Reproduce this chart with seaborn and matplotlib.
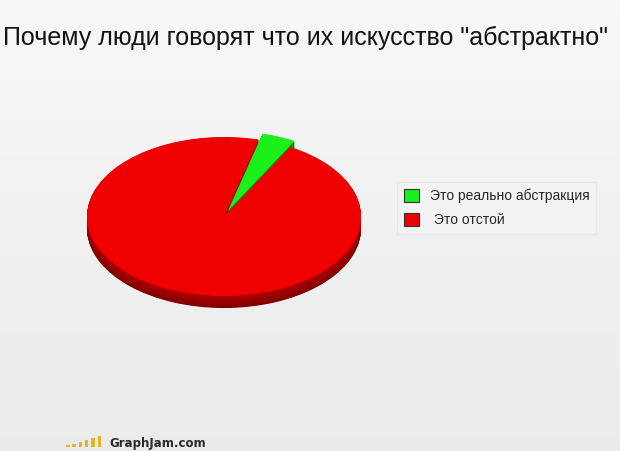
import numpy as np
import matplotlib
matplotlib.use("Agg")
import matplotlib.pyplot as plt
from matplotlib.patches import Patch, Rectangle
from matplotlib.colors import to_rgb
import seaborn as sns

# данные
title = 'Почему люди говорят что их искусство "абстрактно"'
labels = ["Это реально абстракция", " Это отстой"]
shares = [4, 96]
top_colors = ["#1cf01c", "#f00000"]
side_top = ["#0c9a0c", "#b00000"]
side_bottom = ["#066006", "#800000"]
explode = [0.08, 0]

sns.set_style("white")
plt.rcParams["font.family"] = ["Liberation Sans", "DejaVu Sans"]

W, H = 620, 451
fig = plt.figure(figsize=(W / 100, H / 100), dpi=100)

# фон с лёгким градиентом
bg = fig.add_axes([0, 0, 1, 1], zorder=-10)
grad = np.linspace(0.97, 0.92, 200).reshape(-1, 1)
bg.imshow(np.dstack([grad, grad, grad]), aspect="auto", extent=(0, 1, 0, 1))
bg.axis("off")

# оси для "объёмного" пирога: центр (224, 216.5), полуоси 137 и 79.5 px
cx, cy, rx, ry = 224, 216.5, 137, 79.5
xl, yl_lo, yl_hi = 1.3, -1.5, 1.3
left = (cx - xl * rx) / W
width = 2 * xl * rx / W
top_px = cy - yl_hi * ry
height = (yl_hi - yl_lo) * ry / H
bottom = 1 - (top_px + (yl_hi - yl_lo) * ry) / H
ax = fig.add_axes([left, bottom, width, height])

depth = 12 / ry
start = 61
steps = 30
for i, off in enumerate(np.linspace(depth, 0, steps)[:-1]):
    t = i / (steps - 1)
    cols = [tuple(np.array(to_rgb(b)) * (1 - t) + np.array(to_rgb(s)) * t)
            for b, s in zip(side_bottom, side_top)]
    ax.pie(shares, colors=cols, startangle=start, explode=explode,
           center=(0, -off), wedgeprops=dict(linewidth=0))

ax.pie(shares, colors=top_colors, startangle=start, explode=explode,
       wedgeprops=dict(linewidth=0))
ax.set_aspect("auto")
ax.set_xlim(-xl, xl)
ax.set_ylim(yl_lo, yl_hi)
ax.axis("off")

# легенда
handles = [Patch(facecolor=c, edgecolor="#333333", linewidth=0.8) for c in top_colors]
leg = fig.legend(handles, labels, loc="upper left",
                 bbox_to_anchor=(397 / W, 1 - 182 / H), fontsize=10,
                 frameon=True, fancybox=False, handlelength=1.1,
                 handleheight=1.1, handletextpad=0.75, labelspacing=0.68,
                 borderpad=0.5, borderaxespad=0)
leg.get_frame().set_facecolor("#f4f4f4")
leg.get_frame().set_edgecolor("#e6e6e6")
leg.get_frame().set_linewidth(0.8)

# заголовок, подогнанный по ширине
t = fig.text(3 / W, 1 - 45 / H, title, ha="left", va="baseline",
             fontsize=20, color="#111111")
fig.canvas.draw()
w = t.get_window_extent().width
t.set_fontsize(20 * 604 / w)

# логотип
for i, h in enumerate([2, 3, 5, 7, 9, 11]):
    fig.add_artist(Rectangle(((66 + i * 6.3) / W, 1 - 447 / H), 3.6 / W, h / H,
                             transform=fig.transFigure, color="#e6b422", lw=0))
fig.text(109 / W, 1 - 447 / H, "GraphJam.com", ha="left", va="baseline",
         fontsize=8.5, fontweight="bold", color="#2a2a2a", family="DejaVu Sans")

fig.savefig("out.png", dpi=100)
